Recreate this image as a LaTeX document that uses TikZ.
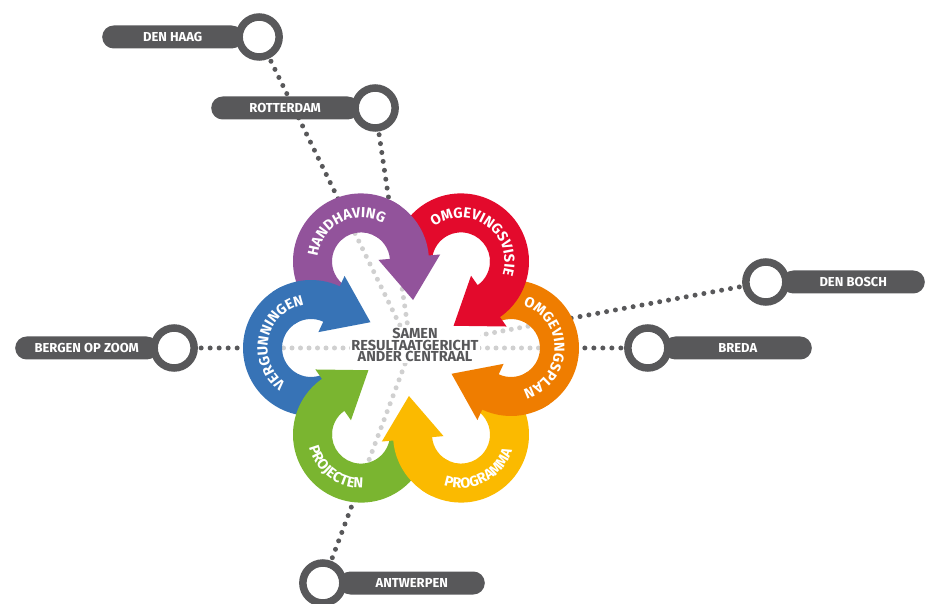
\documentclass[tikz,border=0pt]{standalone}
\usepackage{fontspec}
\setmainfont{Fira Sans}
\usetikzlibrary{positioning, calc, decorations.text}

\definecolor{pingray}{HTML}{58585A}
\definecolor{dotgray}{HTML}{D0D0D0}
\definecolor{hhpurple}{HTML}{92539B}
\definecolor{ovred}{HTML}{E30A2C}
\definecolor{oporange}{HTML}{EF7D00}
\definecolor{pgyellow}{HTML}{FBBA00}
\definecolor{pjgreen}{HTML}{7AB530}
\definecolor{vgblue}{HTML}{3773B6}

\pgfdeclarelayer{background}
\pgfsetlayers{background,main}

\newcommand{\ringfont}{\bfseries\fontsize{14.5}{14.5}\selectfont\color{white}}

\tikzset{
  citybar/.style={fill=pingray, text=white, rounded corners=11.5pt, minimum height=23pt,
    inner sep=0pt, font=\bfseries\fontsize{13}{13}\selectfont},
  cityring/.style={circle, draw=pingray, line width=7.5pt, fill=white, minimum size=40pt, inner sep=0pt},
  darkdots/.style={pingray, line width=5pt, line cap=round, dash pattern=on 0pt off 9pt},
  lightdots/.style={dotgray, line width=5pt, line cap=round, dash pattern=on 0pt off 8.5pt},
  ringtext/.style={decorate, decoration={text along path, text align=center, text={|\ringfont|#1}}}
}

\begin{document}
\begin{tikzpicture}[x=1pt, y=1pt]
\useasboundingbox (-411,-256) rectangle (514,348);
\coordinate (hub) at (0,0);

% ring bodies
\foreach \ang/\col in {120/hhpurple, 60/ovred, 0/oporange, -60/pgyellow, -120/pjgreen, 180/vgblue}
  \fill[fill=\col, shift={(\ang:100)}, rotate=\ang-115]
    (235:68) arc[start angle=235, end angle=50, radius=68]
    -- (50:29) arc[start angle=50, end angle=235, radius=29] -- cycle;
% arrow ends go over the start of the next ring
\foreach \ang/\col in {120/hhpurple, 60/ovred, 0/oporange, -60/pgyellow, -120/pjgreen, 180/vgblue}
  \fill[fill=\col, shift={(\ang:100)}, rotate=\ang-115]
    (60:68) arc[start angle=60, end angle=0, radius=68]
    -- (79.5,0) -- (48.5,-43) -- (17.5,0) -- (29,0)
    arc[start angle=0, end angle=60, radius=29] -- cycle;

\path[shift={(120:100)}, ringtext=HANDHAVING] (207:43.5) arc[start angle=207, end angle=27, radius=43.5];
\path[shift={(60:100)}, ringtext=OMGEVINGSVISIE] (145:43.5) arc[start angle=145, end angle=-35, radius=43.5];
\path[shift={(0:100)}, ringtext=OMGEVINGSPLAN] (90:43.5) arc[start angle=90, end angle=-90, radius=43.5];
\path[shift={(-60:100)}, ringtext=PROGRAMMA] (-153:53.5) arc[start angle=-153, end angle=27, radius=53.5];
\path[shift={(-120:100)}, ringtext=PROJECTEN] (143:53.5) arc[start angle=143, end angle=323, radius=53.5];
\path[shift={(180:100)}, ringtext=VERGUNNINGEN] (257:43.5) arc[start angle=257, end angle=77, radius=43.5];

\node[font=\bfseries\fontsize{14.5}{11.5}\selectfont, text=pingray, fill=white, align=center,
  inner sep=1pt] (motto) at (4,3) {SAMEN\\RESULTAATGERICHT\\ANDER CENTRAAL};

% cities
\node[citybar, minimum width=141pt, anchor=west] (denhaag) at (-309,311) {DEN HAAG};
\node[cityring, right=-8pt of denhaag.east] (dhring) {};
\node[citybar, minimum width=148pt, anchor=west] (rotterdam) at (-200,240) {ROTTERDAM};
\node[cityring, right=-8pt of rotterdam.east] (rdring) {};
\node[citybar, minimum width=143pt, anchor=west] (bergen) at (-396,0) {BERGEN OP ZOOM};
\node[cityring, right=-8pt of bergen.east] (bzring) {};
\node[citybar, minimum width=143pt, anchor=east] (denbosch) at (514,66) {DEN BOSCH};
\node[cityring, left=-8pt of denbosch.west] (dbring) {};
\node[citybar, minimum width=148pt, anchor=east] (breda) at (401,0) {BREDA};
\node[cityring, left=-8pt of breda.west] (brring) {};
\node[citybar, minimum width=146pt, anchor=east] (antwerpen) at (74,-235) {ANTWERPEN};
\node[cityring, left=-8pt of antwerpen.west] (awring) {};

\begin{pgfonlayer}{background}
  \foreach \city/\t in {dhring/0.572, rdring/0.475, bzring/0.368, dbring/0.581, brring/0.368, awring/0.436} {
    \draw[darkdots] (\city.center) -- ($(\city.center)!\t!(hub)$) coordinate (cut);
    \draw[lightdots] (hub) -- (cut);
  }
\end{pgfonlayer}
\end{tikzpicture}
\end{document}
